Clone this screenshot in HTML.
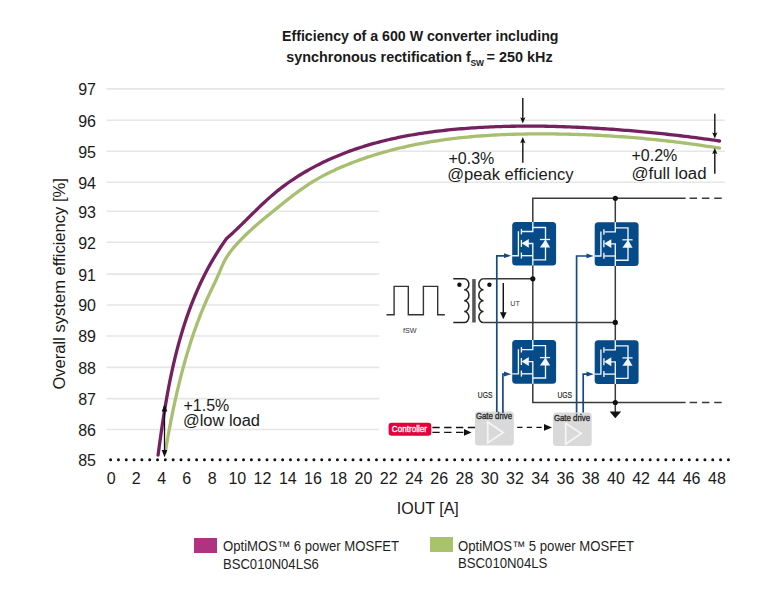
<!DOCTYPE html>
<html><head><meta charset="utf-8"><style>
html,body{margin:0;padding:0;background:#fff;width:774px;height:594px;overflow:hidden}
svg{display:block}
text{font-family:"Liberation Sans", sans-serif}
</style></head><body>
<svg width="774" height="594" viewBox="0 0 774 594">
<rect width="774" height="594" fill="#fff"/>

<text x="282" y="41" font-size="14.6" font-weight="700" fill="#1a1a1a" textLength="276.5" lengthAdjust="spacingAndGlyphs">Efficiency of a 600 W converter including</text>
<text x="286.3" y="61.7" font-size="14.6" font-weight="700" fill="#1a1a1a" textLength="184.5" lengthAdjust="spacingAndGlyphs">synchronous rectification f</text>
<text x="470.4" y="65.6" font-size="9.5" font-weight="700" fill="#1a1a1a" textLength="13.6" lengthAdjust="spacingAndGlyphs">SW</text>
<text x="486.6" y="61.7" font-size="14.6" font-weight="700" fill="#1a1a1a" textLength="66" lengthAdjust="spacingAndGlyphs">= 250 kHz</text>
<line x1="106.7" y1="88.9" x2="724.7" y2="88.9" stroke="#e6e6e6" stroke-width="1.6"/>
<line x1="106.7" y1="120.2" x2="724.7" y2="120.2" stroke="#e6e6e6" stroke-width="1.6"/>
<line x1="106.7" y1="151.2" x2="724.7" y2="151.2" stroke="#e6e6e6" stroke-width="1.6"/>
<line x1="106.7" y1="182.2" x2="724.7" y2="182.2" stroke="#e6e6e6" stroke-width="1.6"/>
<line x1="106.7" y1="211.2" x2="379.3" y2="211.2" stroke="#e6e6e6" stroke-width="1.6"/>
<line x1="106.7" y1="242.2" x2="379.3" y2="242.2" stroke="#e6e6e6" stroke-width="1.6"/>
<line x1="106.7" y1="274.09999999999997" x2="379.3" y2="274.09999999999997" stroke="#e6e6e6" stroke-width="1.6"/>
<line x1="106.7" y1="305.0" x2="379.3" y2="305.0" stroke="#e6e6e6" stroke-width="1.6"/>
<line x1="106.7" y1="336.0" x2="379.3" y2="336.0" stroke="#e6e6e6" stroke-width="1.6"/>
<line x1="106.7" y1="367.4" x2="379.3" y2="367.4" stroke="#e6e6e6" stroke-width="1.6"/>
<line x1="106.7" y1="398.59999999999997" x2="379.3" y2="398.59999999999997" stroke="#e6e6e6" stroke-width="1.6"/>
<line x1="106.7" y1="429.5" x2="379.3" y2="429.5" stroke="#e6e6e6" stroke-width="1.6"/>
<text x="96" y="95.3" text-anchor="end" font-size="16" fill="#1a1a1a">97</text>
<text x="96" y="126.6" text-anchor="end" font-size="16" fill="#1a1a1a">96</text>
<text x="96" y="157.6" text-anchor="end" font-size="16" fill="#1a1a1a">95</text>
<text x="96" y="188.6" text-anchor="end" font-size="16" fill="#1a1a1a">94</text>
<text x="96" y="217.6" text-anchor="end" font-size="16" fill="#1a1a1a">93</text>
<text x="96" y="248.6" text-anchor="end" font-size="16" fill="#1a1a1a">92</text>
<text x="96" y="280.5" text-anchor="end" font-size="16" fill="#1a1a1a">91</text>
<text x="96" y="311.4" text-anchor="end" font-size="16" fill="#1a1a1a">90</text>
<text x="96" y="342.4" text-anchor="end" font-size="16" fill="#1a1a1a">89</text>
<text x="96" y="373.8" text-anchor="end" font-size="16" fill="#1a1a1a">88</text>
<text x="96" y="405.0" text-anchor="end" font-size="16" fill="#1a1a1a">87</text>
<text x="96" y="435.9" text-anchor="end" font-size="16" fill="#1a1a1a">86</text>
<text x="96" y="466.4" text-anchor="end" font-size="16" fill="#1a1a1a">85</text>
<line x1="110.6" y1="459.7" x2="728.6" y2="459.7" stroke="#111" stroke-width="3" stroke-linecap="round" stroke-dasharray="0 7.82"/>
<text x="111.1" y="484" text-anchor="middle" font-size="16" fill="#1a1a1a">0</text>
<text x="136.3" y="484" text-anchor="middle" font-size="16" fill="#1a1a1a">2</text>
<text x="161.6" y="484" text-anchor="middle" font-size="16" fill="#1a1a1a">4</text>
<text x="186.8" y="484" text-anchor="middle" font-size="16" fill="#1a1a1a">6</text>
<text x="212.1" y="484" text-anchor="middle" font-size="16" fill="#1a1a1a">8</text>
<text x="237.3" y="484" text-anchor="middle" font-size="16" fill="#1a1a1a">10</text>
<text x="262.5" y="484" text-anchor="middle" font-size="16" fill="#1a1a1a">12</text>
<text x="287.8" y="484" text-anchor="middle" font-size="16" fill="#1a1a1a">14</text>
<text x="313.0" y="484" text-anchor="middle" font-size="16" fill="#1a1a1a">16</text>
<text x="338.3" y="484" text-anchor="middle" font-size="16" fill="#1a1a1a">18</text>
<text x="363.5" y="484" text-anchor="middle" font-size="16" fill="#1a1a1a">20</text>
<text x="388.7" y="484" text-anchor="middle" font-size="16" fill="#1a1a1a">22</text>
<text x="414.0" y="484" text-anchor="middle" font-size="16" fill="#1a1a1a">24</text>
<text x="439.2" y="484" text-anchor="middle" font-size="16" fill="#1a1a1a">26</text>
<text x="464.5" y="484" text-anchor="middle" font-size="16" fill="#1a1a1a">28</text>
<text x="489.7" y="484" text-anchor="middle" font-size="16" fill="#1a1a1a">30</text>
<text x="514.9" y="484" text-anchor="middle" font-size="16" fill="#1a1a1a">32</text>
<text x="540.2" y="484" text-anchor="middle" font-size="16" fill="#1a1a1a">34</text>
<text x="565.4" y="484" text-anchor="middle" font-size="16" fill="#1a1a1a">36</text>
<text x="590.7" y="484" text-anchor="middle" font-size="16" fill="#1a1a1a">38</text>
<text x="615.9" y="484" text-anchor="middle" font-size="16" fill="#1a1a1a">40</text>
<text x="641.1" y="484" text-anchor="middle" font-size="16" fill="#1a1a1a">42</text>
<text x="666.4" y="484" text-anchor="middle" font-size="16" fill="#1a1a1a">44</text>
<text x="691.6" y="484" text-anchor="middle" font-size="16" fill="#1a1a1a">46</text>
<text x="716.9" y="484" text-anchor="middle" font-size="16" fill="#1a1a1a">48</text>
<text x="396.8" y="514" font-size="16" fill="#1a1a1a" textLength="62" lengthAdjust="spacingAndGlyphs">IOUT [A]</text>
<text transform="translate(64.7,389.6) rotate(-90)" x="0" y="0" font-size="16.5" fill="#1a1a1a" textLength="211.5" lengthAdjust="spacingAndGlyphs">Overall system efficiency [%]</text>
<polyline points="165.2,452.5 165.71,449.46 166.23,446.42 166.76,443.39 167.3,440.35 167.84,437.32 168.39,434.29 168.94,431.26 169.51,428.23 170.08,425.2 170.66,422.18 171.25,419.16 171.86,416.14 172.47,413.12 173.09,410.1 173.72,407.09 174.36,404.08 175.01,401.07 175.68,398.06 176.35,395.06 177.04,392.06 177.74,389.06 178.46,386.07 179.18,383.08 179.92,380.09 180.67,377.11 181.44,374.13 182.22,371.15 183.02,368.17 183.83,365.2 184.65,362.24 185.49,359.28 186.35,356.32 187.22,353.37 188.11,350.42 189.01,347.47 189.93,344.53 190.87,341.59 191.83,338.66 192.81,335.74 193.8,332.82 194.82,329.91 195.85,327.01 196.9,324.11 197.98,321.22 199.07,318.34 200.19,315.47 201.33,312.61 202.49,309.75 203.67,306.91 204.87,304.07 206.1,301.25 207.36,298.44 208.63,295.64 209.93,292.85 211.25,290.07 212.58,287.29 213.91,284.51 215.22,281.73 216.52,278.94 217.79,276.14 219.02,273.32 220.22,270.48 221.41,267.65 222.65,264.84 223.96,262.08 225.39,259.38 226.95,256.75 228.64,254.2 230.43,251.71 232.32,249.28 234.29,246.9 236.33,244.58 238.41,242.3 240.54,240.06 242.7,237.86 244.9,235.7 247.12,233.56 249.37,231.46 251.64,229.38 253.94,227.33 256.25,225.3 258.58,223.29 260.93,221.29 263.29,219.31 265.67,217.35 268.05,215.39 270.44,213.44 272.83,211.5 275.23,209.55 277.62,207.61 280.02,205.67 282.42,203.74 284.83,201.81 287.24,199.89 289.67,197.99 292.1,196.11 294.55,194.25 297.02,192.41 299.5,190.59 302.0,188.81 304.53,187.05 307.08,185.34 309.65,183.65 312.25,182.01 314.88,180.42 317.54,178.87 320.23,177.35 322.94,175.89 325.68,174.46 328.43,173.06 331.21,171.71 334.01,170.39 336.82,169.1 339.65,167.85 342.5,166.63 345.35,165.44 348.22,164.28 351.1,163.15 353.98,162.04 356.87,160.96 359.76,159.91 362.67,158.88 365.58,157.88 368.49,156.9 371.42,155.95 374.35,155.03 377.28,154.12 380.23,153.25 383.18,152.39 386.13,151.56 389.09,150.75 392.06,149.97 395.03,149.21 398.01,148.47 400.99,147.75 403.98,147.06 406.97,146.38 409.97,145.73 412.97,145.1 415.98,144.49 418.99,143.9 422.01,143.33 425.03,142.78 428.05,142.25 431.08,141.74 434.12,141.25 437.15,140.78 440.19,140.32 443.24,139.89 446.28,139.47 449.33,139.07 452.39,138.69 455.44,138.32 458.5,137.97 461.57,137.64 464.63,137.33 467.7,137.03 470.77,136.74 473.84,136.47 476.91,136.22 479.99,135.98 483.07,135.75 486.15,135.54 489.23,135.35 492.31,135.17 495.39,135.0 498.48,134.84 501.56,134.7 504.65,134.57 507.74,134.45 510.83,134.34 513.92,134.25 517.01,134.16 520.1,134.09 523.19,134.03 526.28,133.98 529.36,133.94 532.45,133.91 535.54,133.89 538.63,133.88 541.72,133.87 544.81,133.88 547.89,133.9 550.98,133.92 554.06,133.95 557.15,133.99 560.23,134.04 563.31,134.1 566.39,134.16 569.47,134.23 572.55,134.32 575.62,134.4 578.7,134.5 581.77,134.61 584.85,134.72 587.92,134.84 590.99,134.97 594.07,135.11 597.14,135.26 600.21,135.42 603.28,135.58 606.34,135.75 609.41,135.93 612.48,136.12 615.55,136.32 618.61,136.53 621.68,136.74 624.74,136.96 627.8,137.2 630.87,137.44 633.93,137.69 636.99,137.94 640.05,138.21 643.11,138.48 646.17,138.77 649.23,139.06 652.29,139.36 655.35,139.67 658.41,139.99 661.46,140.31 664.52,140.65 667.58,140.99 670.64,141.35 673.69,141.71 676.75,142.08 679.8,142.46 682.86,142.85 685.91,143.24 688.97,143.65 692.02,144.06 695.07,144.49 698.13,144.92 701.18,145.36 704.24,145.81 707.29,146.27 710.34,146.74 713.39,147.22 716.45,147.7 719.5,148.2" fill="none" stroke="#a8bf72" stroke-width="3.3" stroke-linejoin="round" stroke-linecap="round"/>
<polyline points="158.1,455.0 158.87,449.21 159.66,443.41 160.47,437.61 161.3,431.79 162.15,425.97 163.03,420.15 163.95,414.32 164.89,408.5 165.87,402.67 166.89,396.86 167.95,391.04 169.06,385.24 170.21,379.44 171.42,373.66 172.68,367.89 173.99,362.14 175.37,356.4 176.81,350.68 178.31,344.99 179.88,339.32 181.52,333.67 183.24,328.05 185.03,322.46 186.91,316.9 188.86,311.37 190.91,305.88 193.04,300.42 195.26,295.0 197.58,289.63 199.99,284.29 202.51,279.0 205.13,273.76 207.85,268.56 210.69,263.41 213.63,258.32 216.7,253.28 219.88,248.29 223.18,243.37 226.6,238.5 228.58,236.75 230.54,234.98 232.49,233.2 234.42,231.4 236.34,229.58 238.25,227.75 240.14,225.91 242.04,224.07 243.92,222.21 245.8,220.36 247.68,218.49 249.56,216.63 251.44,214.77 253.32,212.91 255.2,211.06 257.09,209.21 258.99,207.37 260.89,205.55 262.81,203.73 264.74,201.93 266.68,200.14 268.64,198.38 270.62,196.63 272.61,194.9 274.63,193.2 276.66,191.52 278.72,189.87 280.8,188.25 282.9,186.65 285.03,185.07 287.17,183.52 289.33,182.0 291.5,180.5 293.7,179.03 295.91,177.58 298.14,176.15 300.39,174.75 302.65,173.38 304.93,172.03 307.22,170.7 309.53,169.4 311.85,168.12 314.18,166.87 316.52,165.64 318.88,164.43 321.25,163.25 323.63,162.1 326.02,160.96 328.41,159.85 330.82,158.77 333.24,157.71 335.66,156.67 338.1,155.65 340.54,154.66 342.99,153.69 345.44,152.74 347.91,151.81 350.38,150.91 352.86,150.02 355.35,149.16 357.84,148.32 360.34,147.5 362.85,146.7 365.36,145.92 367.88,145.16 370.41,144.41 372.94,143.69 375.48,142.99 378.02,142.31 380.57,141.64 383.13,140.99 385.69,140.36 388.25,139.75 390.82,139.16 393.4,138.58 395.98,138.02 398.56,137.48 401.15,136.95 403.74,136.44 406.34,135.94 408.94,135.47 411.54,135.0 414.15,134.55 416.76,134.12 419.37,133.7 421.99,133.29 424.6,132.9 427.23,132.53 429.85,132.16 432.48,131.81 435.1,131.47 437.74,131.15 440.37,130.84 443.0,130.54 445.64,130.25 448.27,129.97 450.91,129.71 453.55,129.45 456.19,129.21 458.83,128.98 461.47,128.76 464.11,128.54 466.75,128.34 469.39,128.15 472.03,127.97 474.67,127.79 477.32,127.63 479.96,127.47 482.6,127.32 485.24,127.19 487.88,127.06 490.52,126.94 493.15,126.83 495.79,126.72 498.43,126.63 501.07,126.54 503.71,126.46 506.35,126.39 508.99,126.33 511.63,126.27 514.27,126.23 516.9,126.19 519.54,126.16 522.18,126.14 524.82,126.12 527.45,126.11 530.09,126.11 532.73,126.12 535.37,126.13 538.0,126.15 540.64,126.18 543.28,126.21 545.92,126.26 548.55,126.3 551.19,126.36 553.83,126.42 556.46,126.49 559.1,126.56 561.74,126.65 564.37,126.73 567.01,126.83 569.64,126.93 572.28,127.03 574.92,127.14 577.55,127.26 580.19,127.38 582.83,127.51 585.46,127.65 588.1,127.78 590.73,127.93 593.37,128.08 596.01,128.24 598.64,128.4 601.28,128.56 603.91,128.73 606.55,128.91 609.18,129.09 611.82,129.27 614.46,129.46 617.09,129.66 619.73,129.86 622.36,130.06 625.0,130.27 627.64,130.48 630.27,130.7 632.91,130.92 635.54,131.15 638.17,131.38 640.81,131.62 643.44,131.86 646.08,132.11 648.71,132.36 651.34,132.62 653.97,132.88 656.6,133.14 659.23,133.42 661.86,133.69 664.49,133.97 667.12,134.26 669.75,134.55 672.38,134.84 675.0,135.14 677.63,135.45 680.25,135.76 682.88,136.07 685.5,136.39 688.12,136.72 690.74,137.05 693.36,137.38 695.98,137.72 698.6,138.06 701.22,138.41 703.83,138.77 706.45,139.13 709.06,139.49 711.67,139.86 714.28,140.24 716.89,140.62 719.5,141.0" fill="none" stroke="#74215f" stroke-width="3.3" stroke-linejoin="round" stroke-linecap="round"/>
<line x1="164.5" y1="409" x2="164.5" y2="452" stroke="#111" stroke-width="1.3"/>
<polygon points="161.7,411.5 167.3,411.5 164.5,404.2" fill="#111"/>
<polygon points="161.7,450 167.3,450 164.5,457.2" fill="#111"/>
<line x1="522.8" y1="98" x2="522.8" y2="119.5" stroke="#111" stroke-width="1.4"/>
<polygon points="520.1999999999999,117.3 522.8,118.5 525.4,117.3 522.8,123.5" fill="#111"/>
<line x1="522.8" y1="162.7" x2="522.8" y2="141" stroke="#111" stroke-width="1.4"/>
<polygon points="520.1999999999999,143.2 522.8,142 525.4,143.2 522.8,137" fill="#111"/>
<line x1="714.8" y1="113.8" x2="714.8" y2="134.6" stroke="#111" stroke-width="1.4"/>
<polygon points="712.1999999999999,132.4 714.8,133.6 717.4,132.4 714.8,138.6" fill="#111"/>
<line x1="714.8" y1="173.7" x2="714.8" y2="151.9" stroke="#111" stroke-width="1.4"/>
<polygon points="712.1999999999999,154.1 714.8,152.9 717.4,154.1 714.8,147.9" fill="#111"/>
<text x="183.5" y="410.7" font-size="16" fill="#1a1a1a">+1.5%</text>
<text x="183" y="425.9" font-size="16" fill="#1a1a1a" textLength="77" lengthAdjust="spacingAndGlyphs">@low load</text>
<text x="448.5" y="163.5" font-size="16" fill="#1a1a1a">+0.3%</text>
<text x="447.2" y="180.3" font-size="16" fill="#1a1a1a" textLength="126.3" lengthAdjust="spacingAndGlyphs">@peak efficiency</text>
<text x="631.5" y="161" font-size="16" fill="#1a1a1a">+0.2%</text>
<text x="631.5" y="178.6" font-size="16" fill="#1a1a1a" textLength="75" lengthAdjust="spacingAndGlyphs">@full load</text>
<rect x="194" y="538" width="23" height="15" fill="#b0337f"/>
<rect x="430" y="537" width="23" height="15" fill="#a9c26c"/>
<text x="223" y="551.4" font-size="14" fill="#1f1f1f" textLength="176" lengthAdjust="spacingAndGlyphs">OptiMOS™ 6 power MOSFET</text>
<text x="223" y="569.3" font-size="14" fill="#1f1f1f" textLength="95.9" lengthAdjust="spacingAndGlyphs">BSC010N04LS6</text>
<text x="458" y="550.7" font-size="14" fill="#1f1f1f" textLength="176" lengthAdjust="spacingAndGlyphs">OptiMOS™ 5 power MOSFET</text>
<text x="458" y="568.2" font-size="14" fill="#1f1f1f" textLength="89.4" lengthAdjust="spacingAndGlyphs">BSC010N04LS</text>
<polyline points="532.8,221.9 532.8,198.3 685.6,198.3" fill="none" stroke="#3a3a3a" stroke-width="1.5"/>
<line x1="689.6" y1="198.3" x2="723" y2="198.3" stroke="#3a3a3a" stroke-width="1.5" stroke-dasharray="7.5 4.8"/>
<polyline points="532.8,384 532.8,402.5 685.6,402.5" fill="none" stroke="#3a3a3a" stroke-width="1.5"/>
<line x1="689.6" y1="402.5" x2="723" y2="402.5" stroke="#3a3a3a" stroke-width="1.5" stroke-dasharray="7.5 4.8"/>
<line x1="532.8" y1="265" x2="532.8" y2="339.9" stroke="#3a3a3a" stroke-width="1.5"/>
<line x1="615.3" y1="198.3" x2="615.3" y2="222.2" stroke="#3a3a3a" stroke-width="1.5"/>
<line x1="615.3" y1="265.7" x2="615.3" y2="340.3" stroke="#3a3a3a" stroke-width="1.5"/>
<line x1="615.3" y1="383.7" x2="615.3" y2="412" stroke="#3a3a3a" stroke-width="1.5"/>
<polygon points="609.6,411.6 621.2,411.6 615.3,418.2" fill="#111"/>
<line x1="483.5" y1="278.8" x2="532.8" y2="278.8" stroke="#3a3a3a" stroke-width="1.5"/>
<line x1="483.5" y1="322.4" x2="615.3" y2="322.4" stroke="#3a3a3a" stroke-width="1.5"/>
<circle cx="615.3" cy="198.3" r="2.6" fill="#111"/>
<circle cx="532.8" cy="278.8" r="2.6" fill="#111"/>
<circle cx="615.3" cy="322.4" r="2.6" fill="#111"/>
<circle cx="615.3" cy="402.5" r="2.6" fill="#111"/>
<rect x="512.2" y="221.9" width="43.9" height="43.7" rx="3.5" fill="#064a88"/>
<polyline points="532.8000000000001,221.9 532.8000000000001,231.5 521.9000000000001,231.5" stroke="#f2f6fb" stroke-width="1.35" fill="none"/>
<polyline points="532.8000000000001,227.5 545.5,227.5 545.5,259.9 532.8000000000001,259.9" stroke="#f2f6fb" stroke-width="1.35" fill="none"/>
<polyline points="527.2,243.5 532.8000000000001,243.5 532.8000000000001,265.6" stroke="#f2f6fb" stroke-width="1.35" fill="none"/>
<line x1="521.4000000000001" y1="255.7" x2="532.8000000000001" y2="255.7" stroke="#f2f6fb" stroke-width="1.35" fill="none"/>
<line x1="521.4000000000001" y1="228.9" x2="521.4000000000001" y2="234.4" stroke="#f2f6fb" stroke-width="1.35" fill="none"/>
<line x1="521.4000000000001" y1="239.9" x2="521.4000000000001" y2="246.9" stroke="#f2f6fb" stroke-width="1.35" fill="none"/>
<line x1="521.4000000000001" y1="252.5" x2="521.4000000000001" y2="258.5" stroke="#f2f6fb" stroke-width="1.35" fill="none"/>
<polyline points="512.2,255.7 518.4000000000001,255.7 518.4000000000001,231.20000000000002" stroke="#f2f6fb" stroke-width="1.35" fill="none"/>
<polygon points="521.6,243.3 528.8000000000001,238.9 528.8000000000001,247.8" fill="#f2f6fb"/>
<polygon points="539.9000000000001,247.4 550.1,247.4 545.5,239.5" fill="#f2f6fb"/>
<line x1="539.9000000000001" y1="239.5" x2="550.1" y2="239.5" stroke="#f2f6fb" stroke-width="1.3"/>
<rect x="594.7" y="222.2" width="43.9" height="43.7" rx="3.5" fill="#064a88"/>
<polyline points="615.3000000000001,222.2 615.3000000000001,231.79999999999998 604.4000000000001,231.79999999999998" stroke="#f2f6fb" stroke-width="1.35" fill="none"/>
<polyline points="615.3000000000001,227.79999999999998 628.0,227.79999999999998 628.0,260.2 615.3000000000001,260.2" stroke="#f2f6fb" stroke-width="1.35" fill="none"/>
<polyline points="609.7,243.79999999999998 615.3000000000001,243.79999999999998 615.3000000000001,265.9" stroke="#f2f6fb" stroke-width="1.35" fill="none"/>
<line x1="603.9000000000001" y1="256.0" x2="615.3000000000001" y2="256.0" stroke="#f2f6fb" stroke-width="1.35" fill="none"/>
<line x1="603.9000000000001" y1="229.2" x2="603.9000000000001" y2="234.7" stroke="#f2f6fb" stroke-width="1.35" fill="none"/>
<line x1="603.9000000000001" y1="240.2" x2="603.9000000000001" y2="247.2" stroke="#f2f6fb" stroke-width="1.35" fill="none"/>
<line x1="603.9000000000001" y1="252.79999999999998" x2="603.9000000000001" y2="258.8" stroke="#f2f6fb" stroke-width="1.35" fill="none"/>
<polyline points="594.7,256.0 600.9000000000001,256.0 600.9000000000001,231.5" stroke="#f2f6fb" stroke-width="1.35" fill="none"/>
<polygon points="604.1,243.6 611.3000000000001,239.2 611.3000000000001,248.1" fill="#f2f6fb"/>
<polygon points="622.4000000000001,247.7 632.6,247.7 628.0,239.79999999999998" fill="#f2f6fb"/>
<line x1="622.4000000000001" y1="239.79999999999998" x2="632.6" y2="239.79999999999998" stroke="#f2f6fb" stroke-width="1.3"/>
<rect x="512.2" y="340.0" width="43.9" height="43.7" rx="3.5" fill="#064a88"/>
<polyline points="532.8000000000001,340.0 532.8000000000001,349.6 521.9000000000001,349.6" stroke="#f2f6fb" stroke-width="1.35" fill="none"/>
<polyline points="532.8000000000001,345.6 545.5,345.6 545.5,378.0 532.8000000000001,378.0" stroke="#f2f6fb" stroke-width="1.35" fill="none"/>
<polyline points="527.2,361.6 532.8000000000001,361.6 532.8000000000001,383.7" stroke="#f2f6fb" stroke-width="1.35" fill="none"/>
<line x1="521.4000000000001" y1="373.8" x2="532.8000000000001" y2="373.8" stroke="#f2f6fb" stroke-width="1.35" fill="none"/>
<line x1="521.4000000000001" y1="347.0" x2="521.4000000000001" y2="352.5" stroke="#f2f6fb" stroke-width="1.35" fill="none"/>
<line x1="521.4000000000001" y1="358.0" x2="521.4000000000001" y2="365.0" stroke="#f2f6fb" stroke-width="1.35" fill="none"/>
<line x1="521.4000000000001" y1="370.6" x2="521.4000000000001" y2="376.6" stroke="#f2f6fb" stroke-width="1.35" fill="none"/>
<polyline points="512.2,373.8 518.4000000000001,373.8 518.4000000000001,349.3" stroke="#f2f6fb" stroke-width="1.35" fill="none"/>
<polygon points="521.6,361.4 528.8000000000001,357.0 528.8000000000001,365.9" fill="#f2f6fb"/>
<polygon points="539.9000000000001,365.5 550.1,365.5 545.5,357.6" fill="#f2f6fb"/>
<line x1="539.9000000000001" y1="357.6" x2="550.1" y2="357.6" stroke="#f2f6fb" stroke-width="1.3"/>
<rect x="594.7" y="340.3" width="43.9" height="43.7" rx="3.5" fill="#064a88"/>
<polyline points="615.3000000000001,340.3 615.3000000000001,349.90000000000003 604.4000000000001,349.90000000000003" stroke="#f2f6fb" stroke-width="1.35" fill="none"/>
<polyline points="615.3000000000001,345.90000000000003 628.0,345.90000000000003 628.0,378.3 615.3000000000001,378.3" stroke="#f2f6fb" stroke-width="1.35" fill="none"/>
<polyline points="609.7,361.90000000000003 615.3000000000001,361.90000000000003 615.3000000000001,384.0" stroke="#f2f6fb" stroke-width="1.35" fill="none"/>
<line x1="603.9000000000001" y1="374.1" x2="615.3000000000001" y2="374.1" stroke="#f2f6fb" stroke-width="1.35" fill="none"/>
<line x1="603.9000000000001" y1="347.3" x2="603.9000000000001" y2="352.8" stroke="#f2f6fb" stroke-width="1.35" fill="none"/>
<line x1="603.9000000000001" y1="358.3" x2="603.9000000000001" y2="365.3" stroke="#f2f6fb" stroke-width="1.35" fill="none"/>
<line x1="603.9000000000001" y1="370.90000000000003" x2="603.9000000000001" y2="376.90000000000003" stroke="#f2f6fb" stroke-width="1.35" fill="none"/>
<polyline points="594.7,374.1 600.9000000000001,374.1 600.9000000000001,349.6" stroke="#f2f6fb" stroke-width="1.35" fill="none"/>
<polygon points="604.1,361.7 611.3000000000001,357.3 611.3000000000001,366.2" fill="#f2f6fb"/>
<polygon points="622.4000000000001,365.8 632.6,365.8 628.0,357.90000000000003" fill="#f2f6fb"/>
<line x1="622.4000000000001" y1="357.90000000000003" x2="632.6" y2="357.90000000000003" stroke="#f2f6fb" stroke-width="1.3"/>
<path d="M453.3,278.8 L464.2,278.8 464.2,278.8 A4.7,5.462499999999999 0 0 1 464.2,289.725 A4.7,5.462499999999999 0 0 1 464.2,300.65 A4.7,5.462499999999999 0 0 1 464.2,311.575 A4.7,5.462499999999999 0 0 1 464.2,322.5 L453.3,322.5" fill="none" stroke="#222" stroke-width="1.5"/>
<path d="M483.5,278.8 A4.7,5.462499999999999 0 0 0 483.5,289.725 A4.7,5.462499999999999 0 0 0 483.5,300.65 A4.7,5.462499999999999 0 0 0 483.5,311.575 A4.7,5.462499999999999 0 0 0 483.5,322.5" fill="none" stroke="#222" stroke-width="1.5"/>
<rect x="472.2" y="279.1" width="3.5" height="43.4" fill="#555"/>
<circle cx="459.4" cy="284.7" r="2.2" fill="#111"/>
<circle cx="489.4" cy="284.7" r="2.2" fill="#111"/>
<line x1="503.3" y1="283.1" x2="503.3" y2="313" stroke="#111" stroke-width="1.4"/>
<polygon points="500,312.2 506.6,312.2 503.3,319.3" fill="#111"/>
<text x="510.3" y="306.2" font-size="8" fill="#333" textLength="9.5" lengthAdjust="spacingAndGlyphs">UT</text>
<polyline points="386.5,314.8 394.1,314.8 394.1,286.4 408.3,286.4 408.3,314.8 423.4,314.8 423.4,286.4 437.7,286.4 437.7,314.8 444.8,314.8" fill="none" stroke="#333" stroke-width="1.4"/>
<text x="403" y="333" font-size="8" fill="#333" textLength="13.5" lengthAdjust="spacingAndGlyphs">fSW</text>
<text x="477.8" y="398" font-size="8.5" fill="#2a2a2a" stroke="#2a2a2a" stroke-width="0.2" textLength="14.6" lengthAdjust="spacingAndGlyphs">UGS</text>
<text x="557.4" y="398" font-size="8.5" fill="#2a2a2a" stroke="#2a2a2a" stroke-width="0.2" textLength="14.6" lengthAdjust="spacingAndGlyphs">UGS</text>
<rect x="475" y="411.4" width="38.8" height="34" rx="3.5" fill="#d9d9d9"/>
<polygon points="487.7,421.9 487.7,442.9 503.2,432.4" fill="none" stroke="#f5f5f5" stroke-width="1.8"/>
<text x="475.9" y="418.59999999999997" font-size="8.5" fill="#2b2b2b" stroke="#2b2b2b" stroke-width="0.35" textLength="36.2" lengthAdjust="spacingAndGlyphs">Gate drive</text>
<rect x="553" y="412.6" width="38.7" height="33.5" rx="3.5" fill="#d9d9d9"/>
<polygon points="565.7,423.1 565.7,444.1 581.2,433.6" fill="none" stroke="#f5f5f5" stroke-width="1.8"/>
<text x="553.9" y="420.5" font-size="8.5" fill="#2b2b2b" stroke="#2b2b2b" stroke-width="0.35" textLength="36.2" lengthAdjust="spacingAndGlyphs">Gate drive</text>
<polyline points="496.8,412 496.8,255.8 506.20000000000005,255.8" fill="none" stroke="#174a84" stroke-width="1.7"/>
<polygon points="504.00000000000006,253.20000000000002 511.20000000000005,255.8 504.00000000000006,258.1" fill="#174a84"/>
<polyline points="502.9,412 502.9,374.2 506.20000000000005,374.2" fill="none" stroke="#174a84" stroke-width="1.7"/>
<polygon points="504.00000000000006,371.59999999999997 511.20000000000005,374.2 504.00000000000006,376.5" fill="#174a84"/>
<polyline points="576.6,412.6 576.6,256 588.7,256" fill="none" stroke="#174a84" stroke-width="1.7"/>
<polygon points="586.5,253.4 593.7,256 586.5,258.3" fill="#174a84"/>
<polyline points="583.2,412.6 583.2,374.2 588.7,374.2" fill="none" stroke="#174a84" stroke-width="1.7"/>
<polygon points="586.5,371.59999999999997 593.7,374.2 586.5,376.5" fill="#174a84"/>
<rect x="388.6" y="422.8" width="42.7" height="13" rx="3" fill="#e4003a"/>
<text x="391.8" y="432.3" font-size="8.5" fill="#fff" stroke="#fff" stroke-width="0.3" textLength="35.2" lengthAdjust="spacingAndGlyphs">Controller</text>
<line x1="432.4" y1="427.5" x2="475" y2="427.5" stroke="#111" stroke-width="1.4" stroke-dasharray="7.3 4.5"/>
<line x1="432.4" y1="432.4" x2="465" y2="432.4" stroke="#111" stroke-width="1.4" stroke-dasharray="7.3 4.5"/>
<polygon points="464,429 471.5,432.4 464,435.8" fill="#111"/>
<line x1="517.2" y1="427.4" x2="545" y2="427.4" stroke="#111" stroke-width="1.4" stroke-dasharray="5.3 4.3"/>
<polygon points="544,424 552,427.4 544,430.8" fill="#111"/>
</svg></body></html>
